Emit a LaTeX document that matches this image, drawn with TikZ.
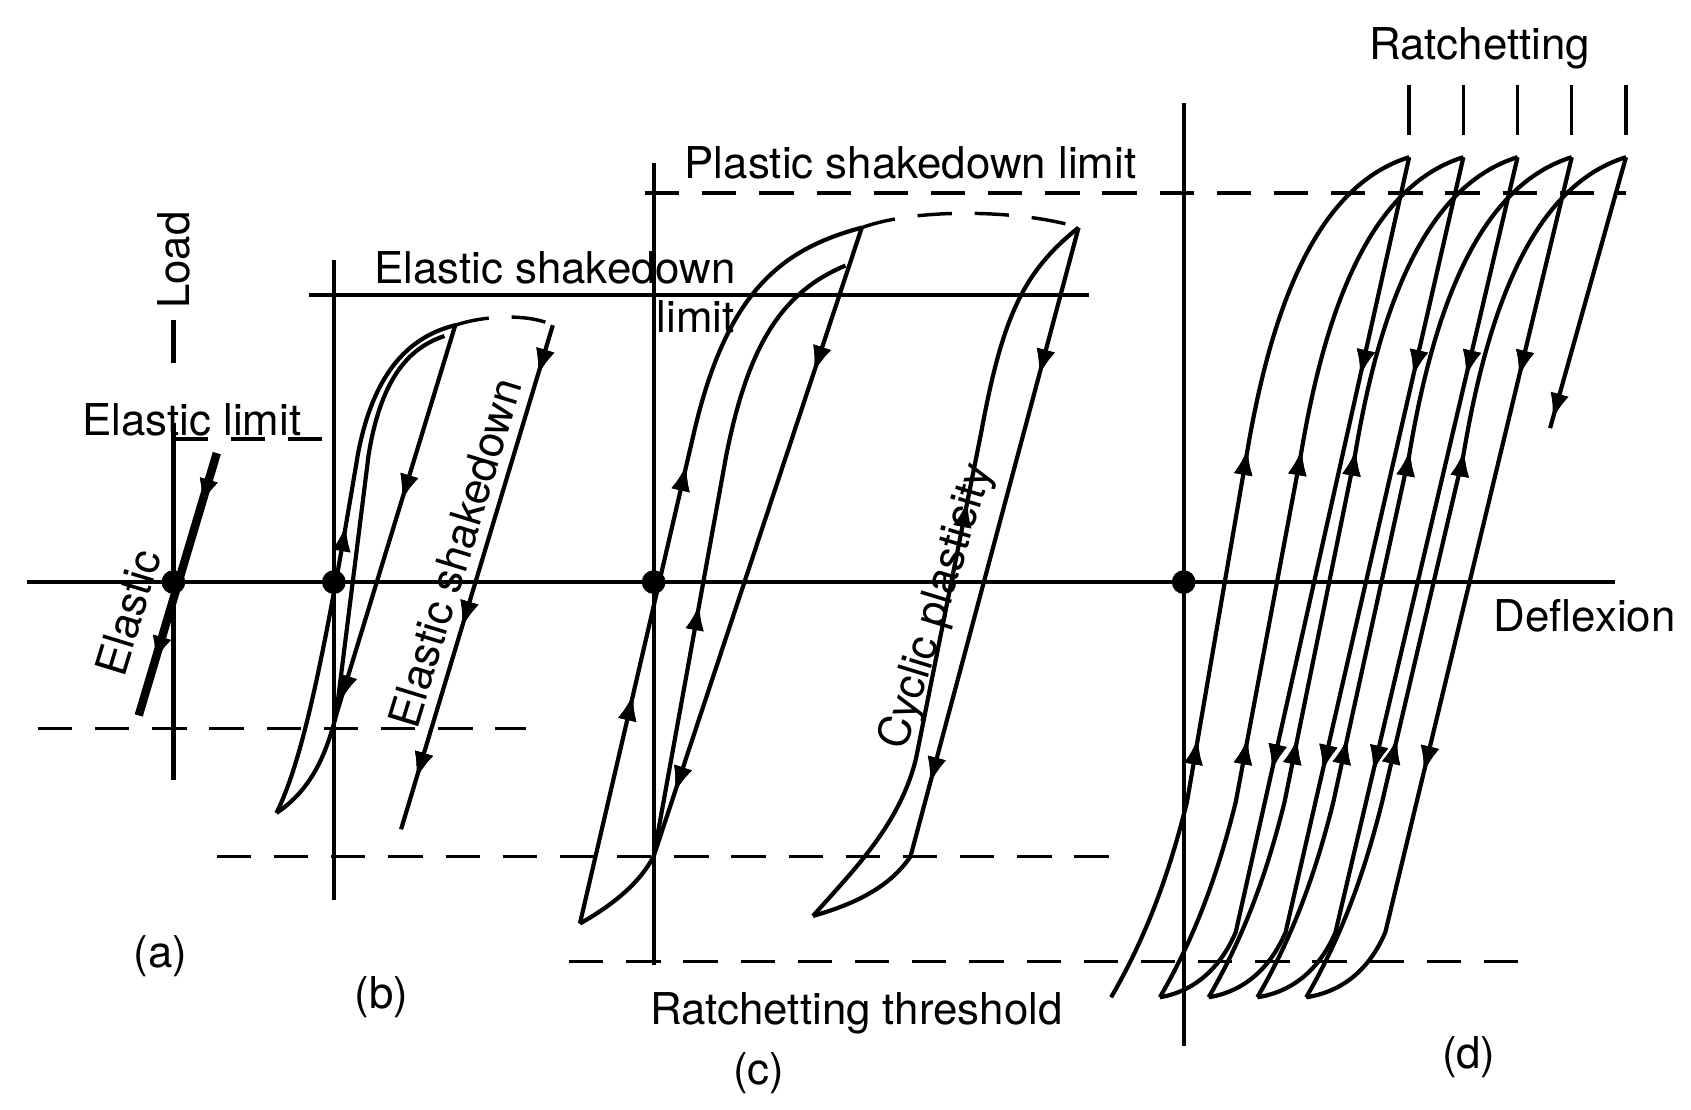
\documentclass[tikz,border=0pt]{standalone}
\usepackage{fontspec}
\setmainfont{TeX Gyre Heros}
\usetikzlibrary{decorations.markings,arrows.meta}
\begin{document}
\begin{tikzpicture}[x=0.01cm,y=-0.01cm,line width=1.1pt,
  dsh/.style={dash pattern=on 9pt off 6pt,line width=0.9pt},
  ar/.style={postaction={decorate},decoration={markings,mark=at position #1 with {\arrow{Latex[length=7pt,width=5pt]}}}},
  ar/.default=0.5,
  lab/.style={font=\fontsize{11.5}{13}\selectfont,inner sep=1pt},
  dot/.style={circle,fill,inner sep=2.2pt}]
\useasboundingbox (0,0) rectangle (1560,1024);
% main axis
\coordinate (ax0) at (25,537); \coordinate (ax1) at (1490,537);
\draw (ax0) -- (ax1);
\node[lab] (defl) at (1462,568) {Deflexion};
% (a)
\draw (160,390) -- (160,720);
\draw (160,295) -- (160,335);
\node[lab,rotate=90] (load) at (160,240) {Load};
\draw[dsh] (160,405) -- (300,405);
\node[lab] (elim) at (177,387) {Elastic limit};
\draw[dsh] (35,672) -- (485,672);
\draw[line width=2.2pt,ar=0.2,ar=0.8] (200,418) -- (128,660);
\node[dot] (oa) at (160,537) {};
\node[lab,rotate=73] (ela) at (118,565) {Elastic};
\node[lab] (la) at (148,882) {(a)};
% (b)
\draw (308,240) -- (308,830);
\draw (285,272) -- (1005,272);
\node[lab] (esl) at (512,247) {Elastic shakedown};
\node[lab] (esl2) at (642,292) {limit};
\draw[ar=0.55] (255,750) .. controls (280,700) and (300,600) .. (330,420) .. controls (345,340) and (380,310) .. (420,300);
\draw (310,660) -- (340,420) .. controls (352,345) and (380,320) .. (410,310);
\draw[ar=0.35,ar=0.75] (420,300) -- (310,660) .. controls (300,700) and (285,730) .. (255,750);
\draw[dsh] (420,300) .. controls (450,290) and (490,290) .. (510,300);
\draw[ar=0.1,ar=0.6,ar=0.9] (510,300) -- (370,765);
\node[lab,rotate=73] (esd) at (420,510) {Elastic shakedown};
\node[dot] (ob) at (308,537) {};
\node[lab] (lb) at (352,920) {(b)};
% (c)
\draw (603,150) -- (603,890);
\draw[dsh] (595,178) -- (1500,178);
\node[lab] (psl) at (840,150) {Plastic shakedown limit};
\draw[ar=0.3,ar=0.6] (535,852) -- (640,400) .. controls (670,270) and (720,230) .. (795,210);
\draw[ar=0.4] (603,790) -- (670,420) .. controls (690,320) and (720,270) .. (780,245);
\draw[ar=0.2,ar=0.78] (795,210) -- (603,790) .. controls (590,815) and (565,835) .. (535,852);
\draw[dsh] (795,210) .. controls (850,190) and (950,195) .. (995,210);
\draw[ar=0.6] (750,845) .. controls (790,800) and (830,760) .. (845,700) -- (905,400) .. controls (925,290) and (945,250) .. (995,210);
\draw[ar=0.2,ar=0.75] (995,210) -- (840,790) .. controls (820,820) and (785,835) .. (750,845);
\node[lab,rotate=73] (cyc) at (865,560) {Cyclic plasticity};
\draw[dsh] (200,790) -- (1030,790);
\draw[dsh] (525,887) -- (1400,887);
\node[lab] (rth) at (790,935) {Ratchetting threshold};
\node[dot] (oc) at (603,537) {};
\node[lab] (lc) at (700,990) {(c)};
% (d)
\draw (1092,95) -- (1092,965);
\node[lab] (rat) at (1365,45) {Ratchetting};
\foreach \i in {0,...,4}{
  \draw[line width=0.9pt] (1300+50*\i,78) -- (1300+50*\i,125);
  \draw[ar=0.3,ar=0.62] (1025+45*\i,920) .. controls (1060+45*\i,860) and (1080+45*\i,800) .. (1095+45*\i,740) -- (1150+50*\i,420) .. controls (1175+50*\i,270) and (1220+50*\i,170) .. (1300+50*\i,145);
}
\foreach \i in {0,...,3}{
  \draw[ar=0.25,ar=0.7] (1300+50*\i,145) -- (1140+46*\i,860) .. controls (1125+46*\i,895) and (1100+46*\i,915) .. (1070+45*\i,920);
}
\draw[ar=0.97] (1500,145) -- (1430,395);
\node[dot] (od) at (1092,537) {};
\node[lab] (ld) at (1355,975) {(d)};
\end{tikzpicture}
\end{document}
